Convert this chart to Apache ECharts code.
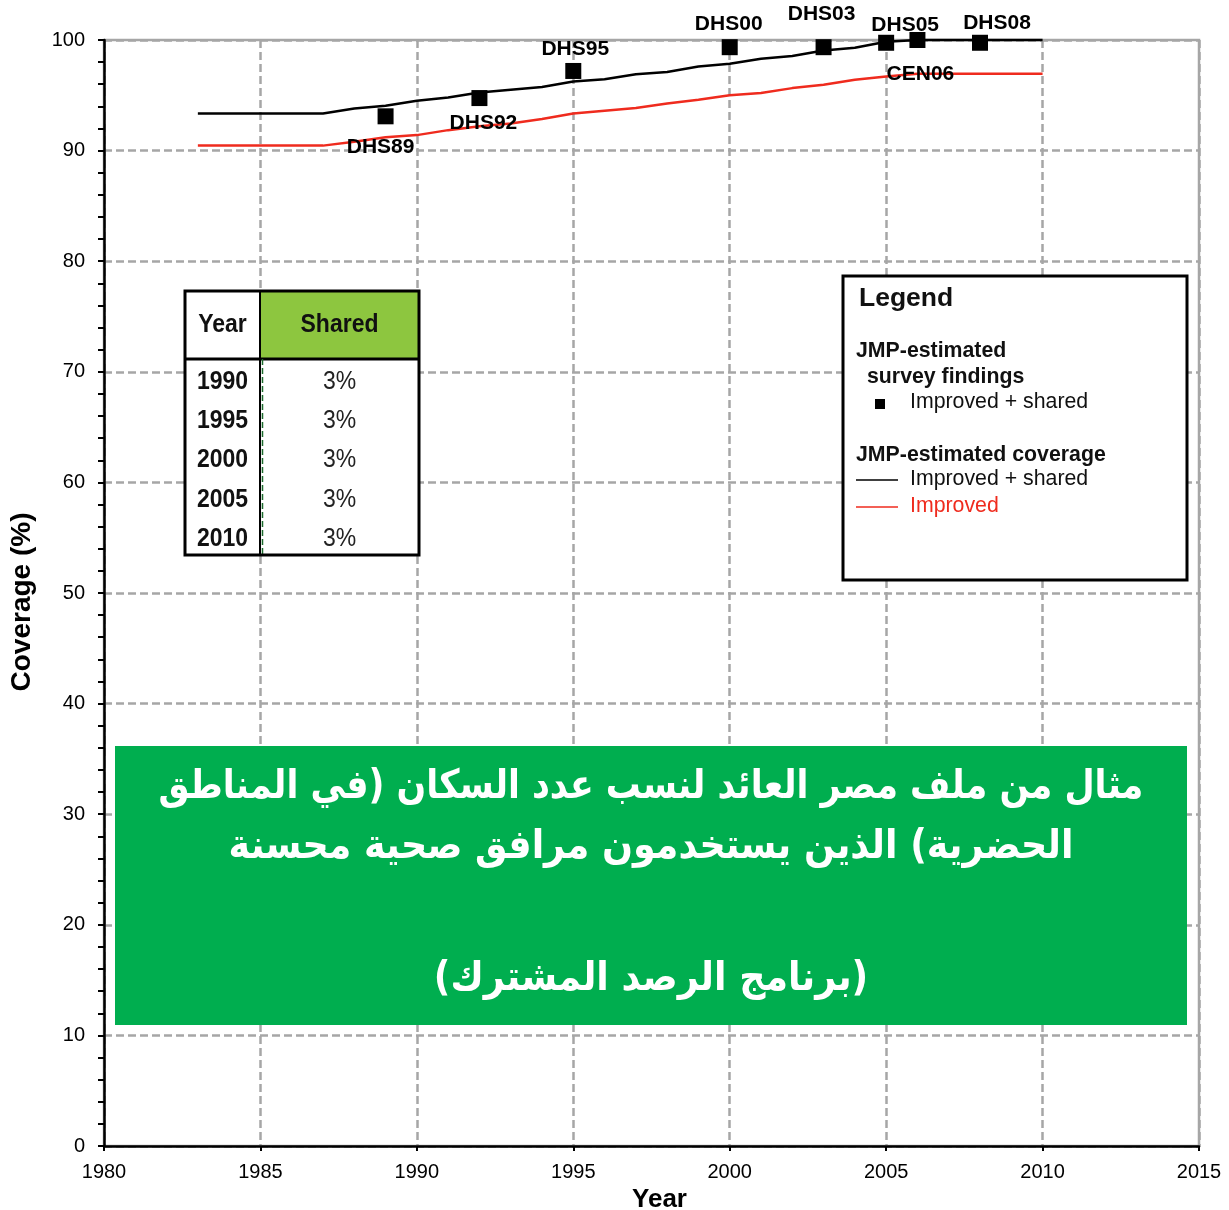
<!DOCTYPE html>
<html dir="ltr">
<head>
<meta charset="utf-8">
<script src="https://cdn.jsdelivr.net/npm/echarts@6/dist/echarts.min.js"></script>
<style>
html,body{margin:0;padding:0;background:#fff;}
#chart{width:1229px;height:1210px;}
</style>
</head>
<body>
<div id="chart"></div>
<script>
// ---------- DATA ----------
const coverageYears = [1983,1984,1985,1986,1987,1988,1989,1990,1991,1992,1993,1994,1995,1996,1997,1998,1999,2000,2001,2002,2003,2004,2005,2006,2007,2008,2009,2010];
const improvedShared = [93.35,93.35,93.35,93.35,93.35,93.8,94.05,94.5,94.8,95.25,95.5,95.75,96.25,96.45,96.9,97.1,97.6,97.85,98.3,98.55,99.05,99.3,99.85,100,100,100,100,100];
const improved = [90.45,90.45,90.45,90.45,90.45,90.8,91.2,91.4,91.85,92.2,92.45,92.85,93.35,93.6,93.85,94.25,94.6,95.0,95.2,95.65,95.95,96.4,96.7,96.95,96.95,96.95,96.95,96.95];

const surveyLabels = ['DHS89','DHS92','DHS95','DHS00','DHS03','DHS05','CEN06','DHS08'];
const surveyYears = [1989,1992,1995,2000,2003,2005,2006,2008];
const surveyValues = [93.1,94.75,97.2,99.35,99.35,99.75,100,99.75];

const xTicks = [1980,1985,1990,1995,2000,2005,2010,2015];
const yTicks = [0,10,20,30,40,50,60,70,80,90,100];

const tableYears = ['1990','1995','2000','2005','2010'];
const tableShared = ['3%','3%','3%','3%','3%'];

const titleLines = [
  'مثال من ملف مصر العائد لنسب عدد السكان (في المناطق',
  'الحضرية) الذين يستخدمون مرافق صحية محسنة',
  '',
  '(برنامج الرصد المشترك)'
];

// ---------- STYLE ----------
const labelOffsets = {
  DHS89: [-5, 31], DHS92: [4, 25], DHS95: [2, -22], DHS00: [-1, -23],
  DHS03: [-2, -33], DHS05: [19, -18], CEN06: [3, 34], DHS08: [17, -20]
};

const FONT = "'Liberation Sans', Arial, sans-serif";
const NARROW = "'Liberation Sans Narrow', 'Arial Narrow', 'Liberation Sans', sans-serif";
const ARFONT = 'bold 40px "DejaVu Sans", sans-serif';
const chart = echarts.init(document.getElementById('chart'), null, {renderer: 'canvas'});

const gridL = 104, gridT = 40, gridR = 30, gridB = 64;

// table graphics
const tbl = {x: 185, y: 291, w: 234, h: 264, col: 260, headH: 68};
const tableEls = [];
tableEls.push({type: 'rect', shape: {x: tbl.x, y: tbl.y, width: tbl.w, height: tbl.h}, style: {fill: '#fff'}});
tableEls.push({type: 'rect', shape: {x: tbl.col + 1, y: tbl.y, width: tbl.x + tbl.w - tbl.col - 1, height: tbl.headH}, style: {fill: '#8dc63f'}});
tableEls.push({type: 'line', shape: {x1: tbl.x, y1: tbl.y + tbl.headH, x2: tbl.x + tbl.w, y2: tbl.y + tbl.headH}, style: {stroke: '#000', lineWidth: 3}});
tableEls.push({type: 'line', shape: {x1: tbl.col, y1: tbl.y, x2: tbl.col, y2: tbl.y + tbl.h}, style: {stroke: '#000', lineWidth: 2}});
tableEls.push({type: 'line', shape: {x1: tbl.col + 2.5, y1: tbl.y + tbl.headH, x2: tbl.col + 2.5, y2: tbl.y + tbl.h}, style: {stroke: '#1d6b2e', lineWidth: 1.5, lineDash: [6, 3]}});
tableEls.push({type: 'rect', shape: {x: tbl.x, y: tbl.y, width: tbl.w, height: tbl.h}, style: {fill: null, stroke: '#000', lineWidth: 3}});
tableEls.push({type: 'text', x: (tbl.x + tbl.col) / 2, y: tbl.y + tbl.headH / 2, scaleY: 1.1, style: {text: 'Year', font: 'bold 23px ' + NARROW, fill: '#111', align: 'center', verticalAlign: 'middle'}});
tableEls.push({type: 'text', x: (tbl.col + tbl.x + tbl.w) / 2, y: tbl.y + tbl.headH / 2, scaleY: 1.1, style: {text: 'Shared', font: 'bold 23px ' + NARROW, fill: '#111', align: 'center', verticalAlign: 'middle'}});
tableYears.forEach((yr, i) => {
  const cy = 382 + i * 39.2;
  tableEls.push({type: 'text', x: (tbl.x + tbl.col) / 2, y: cy, scaleY: 1.1, style: {text: yr, font: 'bold 23px ' + NARROW, fill: '#111', align: 'center', verticalAlign: 'middle'}});
  tableEls.push({type: 'text', x: (tbl.col + tbl.x + tbl.w) / 2, y: cy, scaleY: 1.1, style: {text: tableShared[i], font: '23px ' + NARROW, fill: '#222', align: 'center', verticalAlign: 'middle'}});
});

// legend box
const LF = '21.3px ' + FONT, LFB = 'bold 21.3px ' + FONT;
const lg = {x: 843, y: 276, w: 344, h: 304};
const legendEls = [
  {type: 'rect', shape: {x: lg.x, y: lg.y, width: lg.w, height: lg.h}, style: {fill: '#fff', stroke: '#000', lineWidth: 3}},
  {type: 'text', x: 859, y: 299, style: {text: 'Legend', font: 'bold 26.5px ' + FONT, fill: '#111', align: 'left', verticalAlign: 'middle'}},
  {type: 'text', x: 856, y: 351, style: {text: 'JMP-estimated', font: LFB, fill: '#111', align: 'left', verticalAlign: 'middle'}},
  {type: 'text', x: 867, y: 377, style: {text: 'survey findings', font: LFB, fill: '#111', align: 'left', verticalAlign: 'middle'}},
  {type: 'rect', shape: {x: 875, y: 399, width: 10, height: 10}, style: {fill: '#000'}},
  {type: 'text', x: 910, y: 402, style: {text: 'Improved + shared', font: LF, fill: '#111', align: 'left', verticalAlign: 'middle'}},
  {type: 'text', x: 856, y: 455, style: {text: 'JMP-estimated coverage', font: LFB, fill: '#111', align: 'left', verticalAlign: 'middle'}},
  {type: 'line', shape: {x1: 856, y1: 480, x2: 898, y2: 480}, style: {stroke: '#000', lineWidth: 1.5}},
  {type: 'text', x: 910, y: 479, style: {text: 'Improved + shared', font: LF, fill: '#111', align: 'left', verticalAlign: 'middle'}},
  {type: 'line', shape: {x1: 856, y1: 507, x2: 898, y2: 507}, style: {stroke: '#ef2b1e', lineWidth: 1.5}},
  {type: 'text', x: 910, y: 506, style: {text: 'Improved', font: LF, fill: '#ef2b1e', align: 'left', verticalAlign: 'middle'}}
];

// green title box
const gb = {x: 115, y: 746, w: 1072, h: 279};
const titleYs = [788, 848, 914, 980];
const titleScaleX = [0.87, 0.91, 1, 0.91];
const greenEls = [{type: 'rect', shape: {x: gb.x, y: gb.y, width: gb.w, height: gb.h}, style: {fill: '#00ae4f'}}];
titleLines.forEach((t, i) => {
  if (!t) return;
  greenEls.push({type: 'text', x: gb.x + gb.w / 2 + (i === 0 ? 0 : 0), y: titleYs[i], scaleX: titleScaleX[i],
    style: {text: t, font: ARFONT, fill: '#fff', align: 'center', verticalAlign: 'middle'}});
});

const withZ = els => els.map((e, i) => Object.assign({z: 100 + i}, e));

const option = {
  backgroundColor: '#fff',
  animation: false,
  grid: {left: gridL, top: gridT, right: gridR, bottom: gridB, show: true, borderColor: '#a6a6a6', borderWidth: 2.5,
    containLabel: false, outerBoundsMode: 'none'},
  xAxis: {
    type: 'value', min: xTicks[0], max: xTicks[xTicks.length - 1], interval: 5,
    name: 'Year', nameLocation: 'middle', nameGap: 36,
    nameTextStyle: {fontFamily: FONT, fontWeight: 'bold', fontSize: 26, color: '#000', padding: [0, 0, 0, 16]},
    axisLine: {show: true, onZero: false, lineStyle: {color: '#000', width: 2.5}},
    axisTick: {show: true, length: 5, lineStyle: {color: '#000', width: 2}},
    axisLabel: {margin: 16, fontFamily: FONT, fontSize: 20, color: '#000', formatter: v => String(v)},
    splitLine: {show: true, lineStyle: {color: '#a6a6a6', width: 2.5, type: [8, 4]}}
  },
  yAxis: {
    type: 'value', min: yTicks[0], max: yTicks[yTicks.length - 1], interval: 10,
    name: 'Coverage (%)', nameLocation: 'middle', nameGap: 68, nameRotate: 90,
    nameTextStyle: {fontFamily: FONT, fontWeight: 'bold', fontSize: 28, color: '#000', padding: [0, 18, 0, 0]},
    axisLine: {show: true, onZero: false, lineStyle: {color: '#000', width: 2.5}},
    axisTick: {show: true, length: 6, lineStyle: {color: '#000', width: 2}},
    minorTick: {show: true, splitNumber: 5, length: 6, lineStyle: {color: '#000', width: 2}},
    axisLabel: {margin: 19, fontFamily: FONT, fontSize: 20, color: '#000'},
    splitLine: {show: true, lineStyle: {color: '#a6a6a6', width: 2.5, type: [8, 4]}}
  },
  series: [
    {
      type: 'line', name: 'Improved', clip: false, showSymbol: false, z: 3,
      data: coverageYears.map((y, i) => [y, improved[i]]),
      lineStyle: {color: '#ef2b1e', width: 2.5}, itemStyle: {color: '#ef2b1e'}
    },
    {
      type: 'line', name: 'Improved + shared', clip: false, showSymbol: false, z: 4,
      data: coverageYears.map((y, i) => [y, improvedShared[i]]),
      lineStyle: {color: '#000', width: 2.5}, itemStyle: {color: '#000'}
    },
    {
      type: 'scatter', name: 'Survey', clip: false, z: 5,
      symbol: 'rect', symbolSize: 16, itemStyle: {color: '#000', opacity: 1},
      data: surveyYears.map((y, i) => ({
        value: [y, surveyValues[i]],
        name: surveyLabels[i],
        label: {show: true, position: 'inside', offset: labelOffsets[surveyLabels[i]], formatter: surveyLabels[i],
          fontFamily: FONT, fontWeight: 'bold', fontSize: 21, color: '#000'}
      }))
    }
  ],
  graphic: [
    {type: 'group', children: withZ(tableEls)},
    {type: 'group', children: withZ(legendEls)},
    {type: 'group', children: withZ(greenEls)}
  ]
};
chart.setOption(option);
</script>
</body>
</html>
